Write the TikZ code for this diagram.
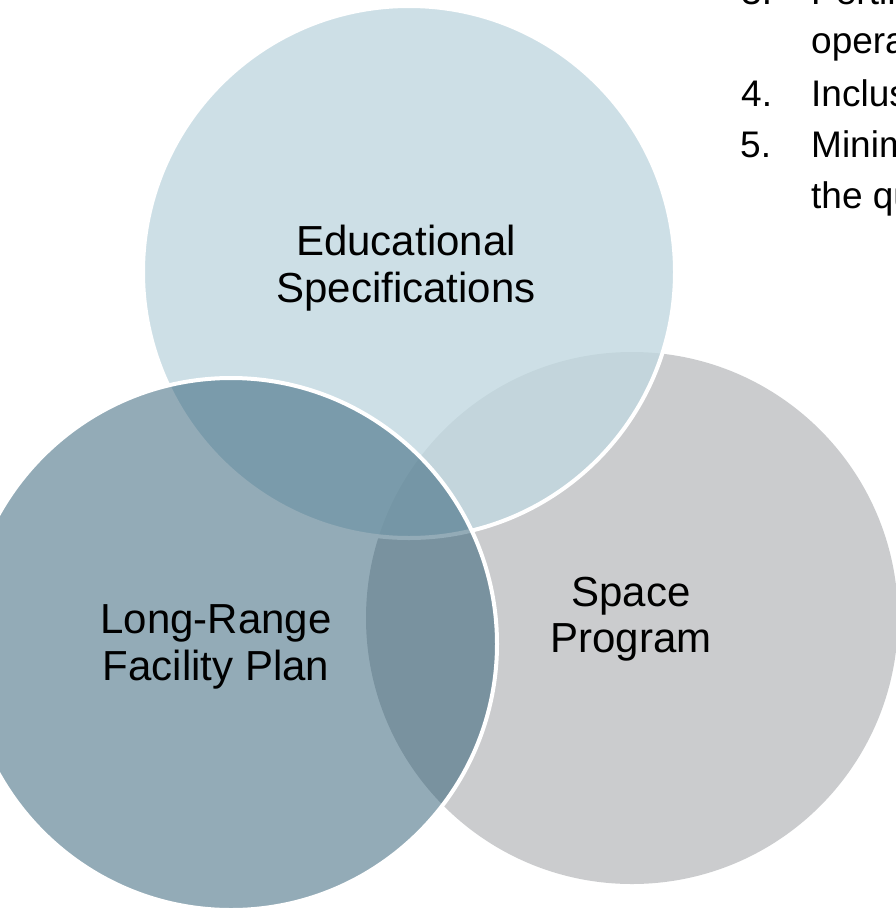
\documentclass[tikz,border=0pt]{standalone}
\usepackage{fontspec}
\setmainfont{Liberation Sans}
\usepackage{tikz}

\definecolor{eduFill}{RGB}{193,216,224}
\definecolor{lrfFill}{RGB}{41,89,113}
\definecolor{spcFill}{RGB}{203,204,206}

\begin{document}
\begin{tikzpicture}[x=1bp,y=-1bp,
    bubble/.style={draw=white, line width=4bp},
    caption/.style={align=center, inner sep=0pt, font=\fontsize{42bp}{46.5bp}\selectfont},
    listtext/.style={anchor=base west, inner sep=0pt, font=\fontsize{37bp}{44bp}\selectfont}]
  \fill[white] (0,0) rectangle (896,914);
  \useasboundingbox (0,0) rectangle (896,914);
  \clip (0,0) rectangle (896,914);

  \coordinate (spc) at (632,618);
  \coordinate (edu) at (409,272);
  \coordinate (lrf) at (231,644);

  % circles, back to front
  \fill[spcFill] (spc) circle[radius=266];
  \filldraw[bubble, fill=eduFill, fill opacity=0.8] (edu) circle[radius=266];
  \filldraw[bubble, fill=lrfFill, fill opacity=0.5] (lrf) circle[radius=266];

  \node[caption] (eduText) at (406,268) {Educational\\Specifications};
  \node[caption] (lrfText) at (216,647) {Long-Range\\Facility Plan};
  \node[caption] (spcText) at (631,619) {Space\\Program};

  % list, cut off at the right
  \node[listtext] (num3) at (741,4) {3.};
  \node[listtext] (item3) at (811,4) {Pertinent};
  \node[listtext] (item3b) at (811,53) {operat};
  \node[listtext] (num4) at (741,106) {4.};
  \node[listtext] (item4) at (811,106) {Inclusi};
  \node[listtext] (num5) at (740,157) {5.};
  \node[listtext] (item5) at (811,157) {Minimi};
  \node[listtext] (item5b) at (811,208) {the qu};
\end{tikzpicture}
\end{document}
